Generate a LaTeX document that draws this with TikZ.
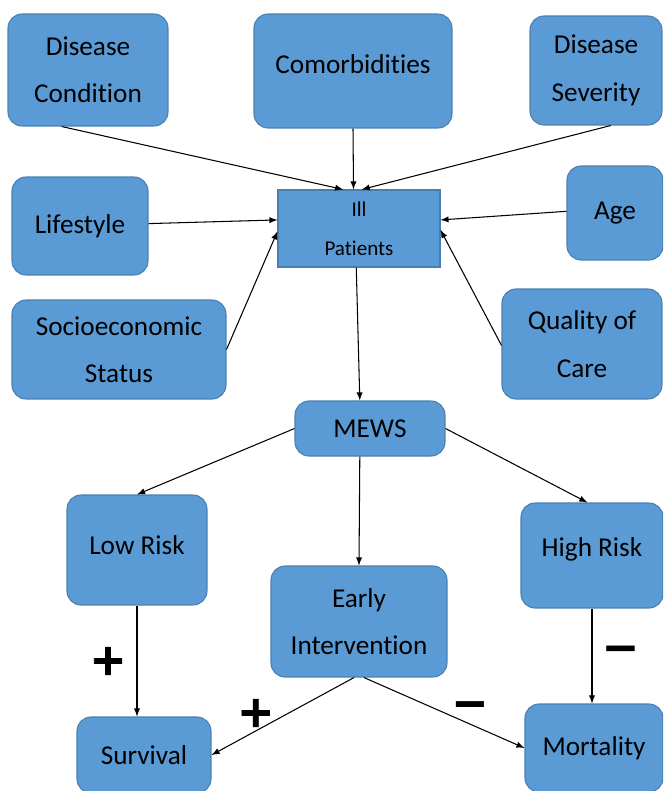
\documentclass[tikz,border=0pt]{standalone}
\usepackage{fontspec}
\setmainfont{Carlito}[Ligatures=NoCommon]
\newfontfamily\signfont{DejaVu Sans}[FakeBold=1.5]
\usetikzlibrary{shapes,arrows}
\definecolor{boxblue}{HTML}{5B9BD5}
\definecolor{boxline}{HTML}{4A7EB0}

\begin{document}
\begin{tikzpicture}[x=0.02cm,y=-0.02cm,>=latex,
  factor/.style={rectangle, rounded corners=0.28cm, draw=boxline, line width=0.6pt, fill=boxblue, text=black, align=center, inner sep=0pt, font=\fontsize{15.5}{27}\selectfont},
  sign/.style={font=\signfont\bfseries\fontsize{25}{25}\selectfont, text=black, inner sep=0pt}]
\useasboundingbox (0,0) rectangle (663,791);
\clip (0,0) rectangle (663,791);
% causes of illness
\node[factor, minimum width=3.2cm, minimum height=2.24cm] (dcond) at (88,70) {Disease\\Condition};
\node[factor, minimum width=3.96cm, minimum height=2.28cm, text depth=0.28cm] (comorb) at (353,71) {Comorbidities};
\node[factor, minimum width=2.64cm, minimum height=2.18cm] (dsev) at (596,70.5) {Disease\\Severity};
\node[factor, minimum width=2.72cm, minimum height=1.96cm] (life) at (80,226) {Lifestyle};
\node[factor, minimum width=1.92cm, minimum height=1.88cm] (age) at (615,213) {Age};
\node[factor, minimum width=4.28cm, minimum height=1.98cm] (socio) at (119,349.5) {Socioeconomic\\Status};
\node[factor, minimum width=3.2cm, minimum height=2.2cm] (qoc) at (582,344) {Quality of\\Care};
\node[factor, sharp corners, minimum width=3.24cm, minimum height=1.54cm, font=\fontsize{12}{22}\selectfont] (ill) at (359,228.5) {Ill\\Patients};
% score and outcomes
\node[factor, minimum width=3.0cm, minimum height=1.1cm] (mews) at (370,428.5) {MEWS};
\node[factor, minimum width=2.8cm, minimum height=2.2cm, text depth=0.2cm] (low) at (137,550) {Low Risk};
\node[factor, minimum width=3.52cm, minimum height=2.22cm] (early) at (359,621.5) {Early\\Intervention};
\node[factor, minimum width=2.84cm, minimum height=2.1cm, text depth=0.35cm] (high) at (592,555.5) {High Risk};
\node[factor, minimum width=2.68cm, minimum height=1.52cm] (surv) at (144,755) {Survival};
\node[factor, minimum width=2.76cm, minimum height=1.76cm] (mort) at (594,748) {Mortality};
\path[draw,->,semithick] (dcond.245) -- (ill.112);
\path[draw,->,semithick] (comorb.south) -- (ill.98);
\path[draw,->,semithick] (dsev.-75) -- (ill.86);
\path[draw,->,semithick] (life.2) -- (ill.174);
\path[draw,->,semithick] (age.178) -- (ill.6);
\path[draw,->,semithick] (socio.east) -- (ill.182);
\path[draw,->,semithick] (qoc.181) -- (ill.-1);
\path[draw,->,semithick] (ill.-94) -- (mews.110);
\path[draw,->,semithick] (mews.west) -- (low.north);
\path[draw,->,semithick] (mews.-110) -- (early.north);
\path[draw,->,semithick] (mews.east) -- (high.95);
\path[draw,->,semithick] (low.south) --node[sign, xshift=-0.58cm]{+} (low.south |- surv.north);
\path[draw,->,semithick] (high.south) --node[sign, xshift=0.57cm, yshift=0.04cm]{−} (high.south |- mort.north);
\path[draw,->,semithick] (early.-95) --node[sign, pos=0.69, yshift=0.36cm]{+} (surv.east);
\path[draw,->,semithick] (early.-85) --node[sign, pos=0.66, yshift=0.29cm]{−} (mort.west);
\end{tikzpicture}
\end{document}
